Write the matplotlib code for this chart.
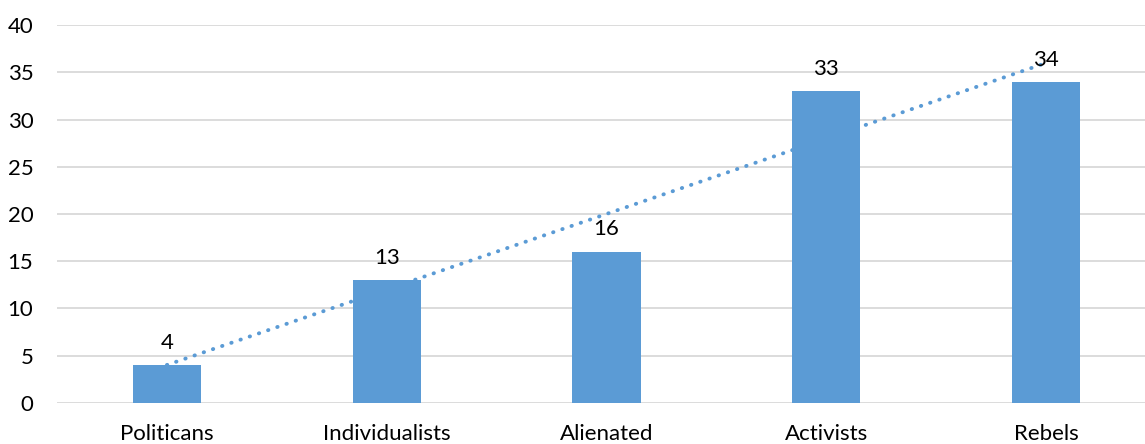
import numpy as np
import matplotlib.pyplot as plt

categories = ["Politicans", "Individualists", "Alienated", "Activists", "Rebels"]
counts = [4, 13, 16, 33, 34]
y_ticks = [0, 5, 10, 15, 20, 25, 30, 35, 40]

plt.rcParams['font.family'] = ['Lato', 'DejaVu Sans']

fig = plt.figure(figsize=(11.45, 4.44), dpi=100)
ax = fig.add_axes([57 / 1145, 1 - 402.7 / 444, 1 - 57 / 1145, 377.5 / 444])

x = np.arange(1, len(categories) + 1)
blue = "#5B9BD5"

ax.bar(x, counts, width=0.31, color=blue, zorder=3)

# linear trend through the bar values
slope, intercept = np.polyfit(x, counts, 1)
ax.plot([x[0], x[-1]], [slope * x[0] + intercept, slope * x[-1] + intercept],
        color=blue, linestyle=(0, (0.1, 2.4)), linewidth=2.8,
        dash_capstyle='round', zorder=4)

for xi, v in zip(x, counts):
    ax.text(xi, v + 1.3, str(v), ha='center', va='bottom', fontsize=16, color='black', zorder=5)

ax.set_xlim(0.5, 5.45)
ax.set_ylim(0, 40)
ax.set_yticks(y_ticks)
ax.set_xticks(x)
ax.set_xticklabels(categories)
ax.tick_params(axis='both', length=0, labelsize=16, colors='black')
ax.tick_params(axis='y', pad=17)
ax.tick_params(axis='x', pad=15)
ax.grid(axis='y', color='#D9D9D9', linewidth=1.3, zorder=0)
for s in ax.spines.values():
    s.set_visible(False)

fig.savefig("out.png", dpi=100)
